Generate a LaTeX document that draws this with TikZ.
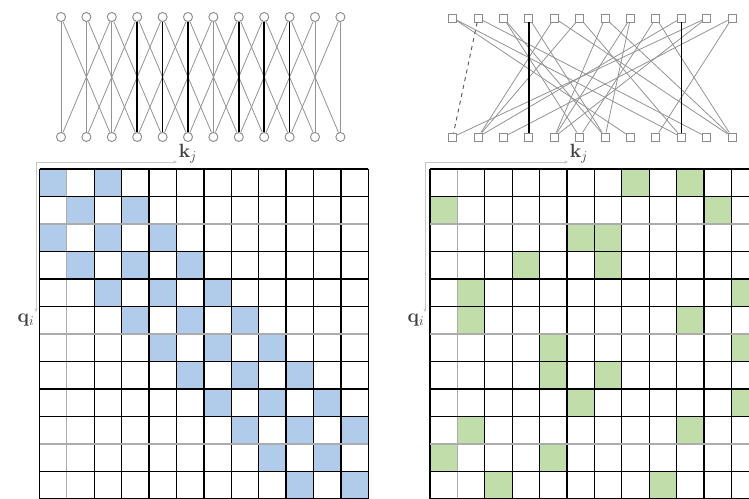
\documentclass[tikz,border=0pt]{standalone}
\usetikzlibrary{arrows.meta}
\definecolor{cellblue}{RGB}{176,204,234}
\definecolor{cellgreen}{RGB}{193,221,170}
\begin{document}
\begin{tikzpicture}[x=0.75pt,y=-0.75pt,
  cnode/.style={circle,draw=gray!90,line width=0.7pt,fill=white,inner sep=0pt,minimum size=6.8pt},
  snode/.style={rectangle,draw=gray!90,line width=0.7pt,fill=white,inner sep=0pt,minimum size=6pt},
  edge/.style={draw=gray!85,line width=0.6pt},
  strong/.style={draw=black,line width=1.1pt},
  dashedge/.style={draw=gray!70!black,line width=0.7pt,dashed},
  gline/.style={draw=black,line width=1pt},
  lline/.style={draw=gray!65,line width=0.8pt},
  axis/.style={draw=gray!45,line width=0.4pt,-{Stealth[length=3pt]}},
  lab/.style={font=\Large,text=gray!50!black,inner sep=1pt}]
\useasboundingbox (0,0) rectangle (749,499);
\clip (0,0) rectangle (749,499);

% ---------- left graph ----------
\foreach \i in {0,...,11} {
  \node[cnode] (lt\i) at ({61+25.4*\i},17) {};
  \node[cnode] (lb\i) at ({61+25.4*\i},137) {};
}
\foreach \i [evaluate=\i as \j using int(\i+2)] in {0,...,9} {
  \draw[edge] (lt\i) -- (lb\j);
  \draw[edge] (lt\j) -- (lb\i);
}
\foreach \i in {0,1,2,6,10,11} \draw[edge] (lt\i) -- (lb\i);
\foreach \i in {3,4,5,7,8,9} \draw[strong] (lt\i) -- (lb\i);

% ---------- right graph ----------
\foreach \i in {0,...,11} {
  \node[snode] (rt\i) at ({452.7+25.4*\i},18) {};
  \node[snode] (rb\i) at ({452.7+25.4*\i},137) {};
}
\foreach \a/\b in {0/7,0/9,1/10,2/5,2/6,3/6,4/1,4/11,5/1,5/9,6/4,6/11,7/4,7/6,8/5,8/11,9/1,10/0,10/4,11/2,11/8}
  \draw[edge] (rt\a) -- (rb\b);
\draw[dashedge] (rt1) -- (rb0);
\draw[strong] (rt3) -- (rb3);
\draw[strong] (rt9) -- (rb9);

% ---------- left matrix ----------
\foreach \r in {0,...,11} {
  \foreach \c in {0,...,11} {
    \pgfmathtruncatemacro\dd{abs(\r-\c)}
    \ifnum\dd=0 \fill[cellblue] ({39.5+27.4*\c},{169+27.5*\r}) rectangle ++(27.4,27.5);\fi
    \ifnum\dd=2 \fill[cellblue] ({39.5+27.4*\c},{169+27.5*\r}) rectangle ++(27.4,27.5);\fi
  }
}
% ---------- right matrix ----------
\foreach \r/\c in {0/7,0/9,1/0,1/10,2/5,2/6,3/3,3/6,4/1,4/11,5/1,5/9,6/4,6/11,7/4,7/6,8/5,8/11,9/1,9/9,10/0,10/4,11/2,11/8}
  \fill[cellgreen] ({430+27.4*\c},{169+27.5*\r}) rectangle ++(27.4,27.5);

% grid lines
\foreach \o in {39.5,430} {
  \foreach \k in {0,2,3,...,12} \draw[gline] ({\o+27.4*\k},169) -- ({\o+27.4*\k},499);
  \draw[lline] ({\o+27.4},169) -- ({\o+27.4},499);
  \foreach \k in {0,1,3,4,5,7,8,9,11,12} \draw[gline] (\o,{169+27.5*\k}) -- ({\o+27.4*12},{169+27.5*\k});
  \foreach \k in {2,6,10} \draw[lline] (\o,{169+27.5*\k}) -- ({\o+27.4*12},{169+27.5*\k});
}

% labels and axes
\node[lab] (kl) at (188,154) {$\mathbf{k}_j$};
\node[lab] (ql) at (26,320) {$\mathbf{q}_i$};
\coordinate (lo) at (36,162);
\draw[axis] (lo) -- (kl.west |- lo);
\draw[axis] (lo) -- (ql.north -| lo);

\node[lab] (kr) at (579,154) {$\mathbf{k}_j$};
\node[lab] (qr) at (416,320) {$\mathbf{q}_i$};
\coordinate (ro) at (425,162);
\draw[axis] (ro) -- (kr.west |- ro);
\draw[axis] (ro) -- (qr.north -| ro);
\end{tikzpicture}
\end{document}
